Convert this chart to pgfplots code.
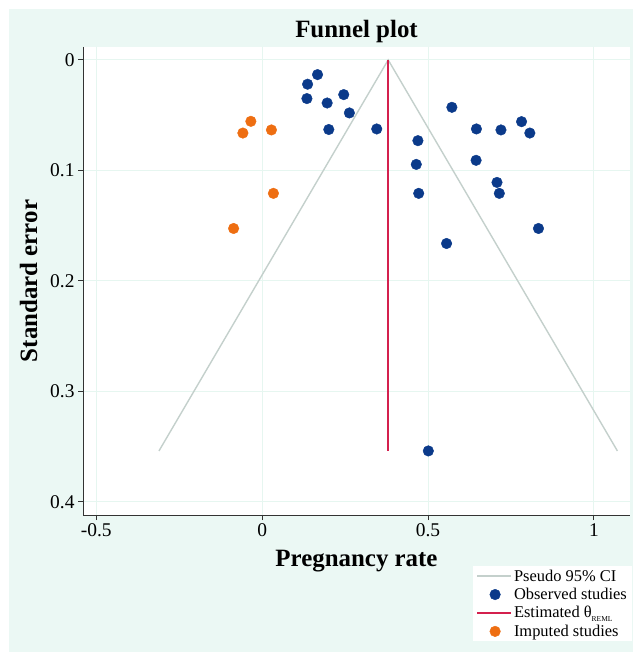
\documentclass[border=0pt]{standalone}
\usepackage{fontspec}
\setmainfont{Liberation Serif}
\usepackage{pgfplots}
\pgfplotsset{compat=1.18}
\definecolor{bgmint}{HTML}{EBF8F4}
\definecolor{gridmint}{HTML}{E6F6F0}
\definecolor{axisgray}{HTML}{333333}
\definecolor{obsblue}{HTML}{0B3A8A}
\definecolor{impor}{HTML}{EE6E12}
\definecolor{estred}{HTML}{D4204E}
\definecolor{cigray}{HTML}{C4D0CC}
\pgfplotsset{
  lineleg/.style={legend image code/.code={\draw[##1] (0bp,0bp) -- (34bp,0bp);}},
  markleg/.style={legend image code/.code={\path[draw=none] (0bp,0bp) -- (34bp,0bp); \draw[##1, only marks] plot coordinates {(18bp,0bp)};}},
}
\begin{document}
\begin{tikzpicture}[x=1bp,y=1bp]
\fill[white] (0,0) rectangle (633,652);
\fill[bgmint] (9,0) rectangle (633,643);
\begin{axis}[
  at={(83bp,137bp)}, anchor=south west,
  scale only axis, width=547bp, height=468bp,
  xmin=-0.540, xmax=1.109, ymin=-0.0117, ymax=0.412,
  y dir=reverse,
  axis background/.style={fill=white},
  axis x line*=bottom, axis y line*=left,
  axis line style={color=axisgray, line width=1pt, -},
  xtick={-0.5,0,0.5,1}, ytick={0,0.1,0.2,0.3,0.4},
  grid=major, grid style={gridmint, line width=0.9pt},
  tick align=outside, major tick length=5bp,
  tick style={axisgray, line width=0.9pt},
  /pgf/number format/assume math mode=true,
  ticklabel style={font=\fontsize{19.5}{20}\selectfont, text=black},
  title={\textbf{Funnel plot}},
  title style={font=\fontsize{25}{27}\selectfont, at={(axis description cs:0.5,1.0)}, anchor=south, yshift=-5bp},
  xlabel={\textbf{Pregnancy rate}},
  ylabel={\textbf{Standard error}},
  label style={font=\fontsize{25}{27}\selectfont},
  xlabel style={yshift=-7bp},
  ylabel style={yshift=6bp},
  legend style={draw=none, fill=white, at={(axis description cs:0.713,-0.109)}, anchor=north west,
    font=\fontsize{16.5}{17}\selectfont, row sep=1.5bp, inner xsep=3bp, inner ysep=1.5bp},
  legend cell align=left,
]
\addplot[cigray, line width=1.4pt, lineleg]
  coordinates {(-0.311,0.354) (0.380,0) (1.071,0.354)};
\addlegendentry{Pseudo 95\% CI}
\addplot[only marks, mark=*, mark size=5.3bp, obsblue, mark options={draw=obsblue, fill=obsblue}, markleg]
  coordinates {
  (0.167,0.0133) (0.137,0.022) (0.135,0.035) (0.246,0.0314) (0.196,0.039)
  (0.263,0.048) (0.201,0.063) (0.3455,0.0625) (0.572,0.0429) (0.4696,0.0731)
  (0.646,0.0625) (0.720,0.0634) (0.782,0.0559) (0.807,0.0662) (0.4647,0.0946)
  (0.645,0.0909) (0.708,0.1109) (0.715,0.1208) (0.472,0.1208) (0.833,0.1526)
  (0.556,0.1662) (0.501,0.354)
  };
\addlegendentry{Observed studies}
\addplot[estred, line width=1.8pt, lineleg]
  coordinates {(0.380,0) (0.380,0.354)};
\addlegendentry{Estimated θ\raisebox{-0.5ex}{\fontsize{7.5}{7.5}\selectfont REML}}
\addplot[only marks, mark=*, mark size=5.3bp, impor, mark options={draw=impor, fill=impor}, markleg]
  coordinates {
  (-0.034,0.0556) (-0.058,0.0662) (0.028,0.0634) (0.034,0.1208) (-0.086,0.1526)
  };
\addlegendentry{Imputed studies}
\end{axis}
\end{tikzpicture}
\end{document}
